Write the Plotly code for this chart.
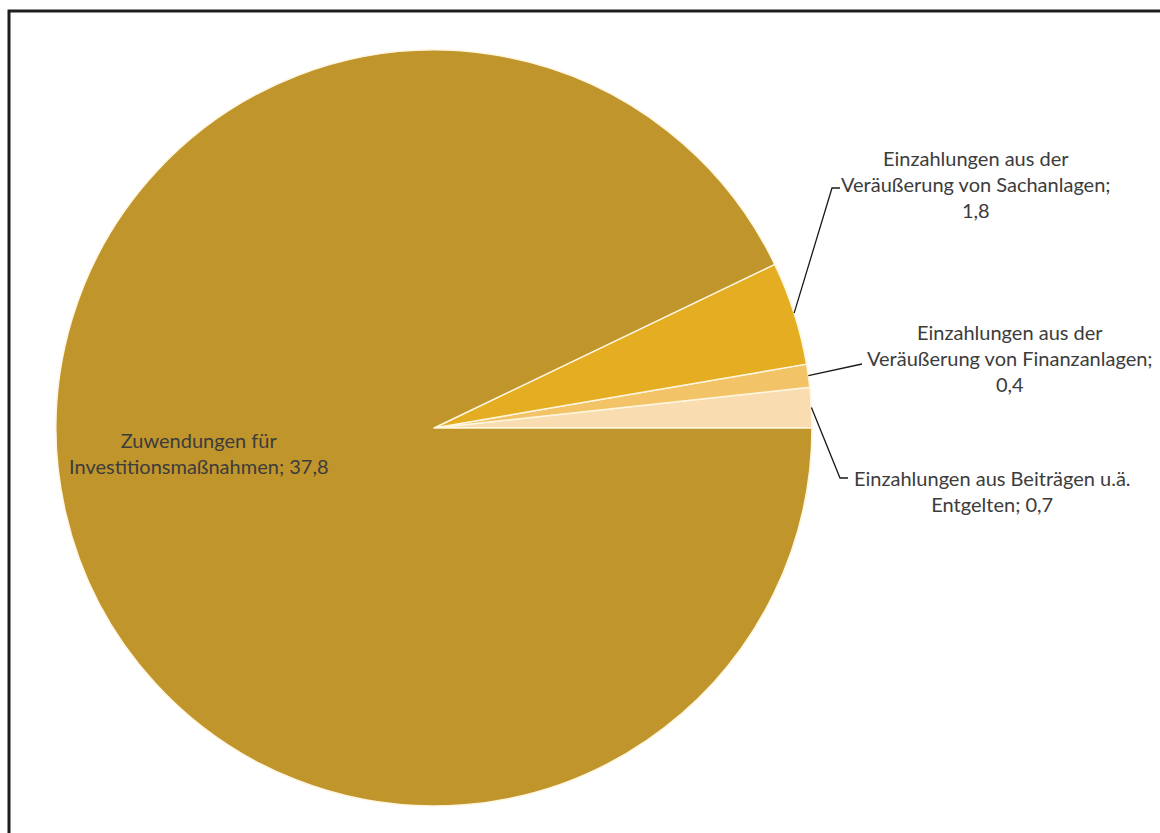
import math
import plotly.graph_objects as go

labels = [
    "Einzahlungen aus Beiträgen u.ä. Entgelten",
    "Einzahlungen aus der Veräußerung von Finanzanlagen",
    "Einzahlungen aus der Veräußerung von Sachanlagen",
    "Zuwendungen für Investitionsmaßnahmen",
]
values = [0.7, 0.4, 1.8, 37.8]
label_lines = [
    ["Einzahlungen aus Beiträgen u.ä.", "Entgelten; {v}"],
    ["Einzahlungen aus der", "Veräußerung von Finanzanlagen;", "{v}"],
    ["Einzahlungen aus der", "Veräußerung von Sachanlagen;", "{v}"],
    ["Zuwendungen für", "Investitionsmaßnahmen; {v}"],
]
colors = ["#F9DCB0", "#F3C467", "#E4AD22", "#C0952C"]

W, H = 1160, 833
CX, CY, R = 434, 428, 378

def px(x):
    return x / W

def py(y):
    return 1 - y / H

total = sum(values)
first_angle = 360 * values[0] / total

fig = go.Figure(go.Pie(
    labels=labels, values=values, sort=False, direction="counterclockwise",
    rotation=90 - first_angle,
    marker=dict(colors=colors, line=dict(color="#FFF6E0", width=1.5)),
    textinfo="none", hoverinfo="label+value", showlegend=False,
    domain=dict(x=[px(CX - R), px(CX + R)], y=[py(CY + R), py(CY - R)]),
))

# label placement (pixel layout): text centre, elbow points
label_pos = [
    dict(c=(992, 491), elbow=[(840, 478), (848, 478)]),
    dict(c=(1010, 358), elbow=[(862, 364)]),
    dict(c=(976, 184), elbow=[(832, 188), (840, 188)]),
    dict(c=(199, 453), elbow=None),
]

start = 0.0
annotations, shapes = [], []
for i, v in enumerate(values):
    ang = 360 * v / total
    mid = math.radians(start + ang / 2)
    start += ang
    vtxt = f"{v:.1f}".replace(".", ",")
    text = "<br>".join(l.format(v=vtxt) for l in label_lines[i])
    cx, cy = label_pos[i]["c"]
    annotations.append(dict(
        x=px(cx), y=py(cy), xref="paper", yref="paper", text=text,
        showarrow=False, align="center", xanchor="center", yanchor="middle",
        font=dict(family="Lato", size=20, color="#3c3c3c"),
    ))
    if label_pos[i]["elbow"]:
        sx = CX + R * math.cos(mid)
        sy = CY - R * math.sin(mid)
        pts = [(sx, sy)] + label_pos[i]["elbow"]
        path = "M " + " L ".join(f"{px(x)} {py(y)}" for x, y in pts)
        shapes.append(dict(type="path", path=path, xref="paper", yref="paper",
                           line=dict(color="#1a1a1a", width=1.3)))

shapes.append(dict(type="rect", xref="paper", yref="paper",
                   x0=px(9), y0=-0.05, x1=1.05, y1=py(11),
                   line=dict(color="#1e1e1e", width=3)))

fig.update_layout(
    width=W, height=H, margin=dict(l=0, r=0, t=0, b=0),
    paper_bgcolor="white", plot_bgcolor="white",
    annotations=annotations, shapes=shapes,
)
fig.write_html("out.html")
